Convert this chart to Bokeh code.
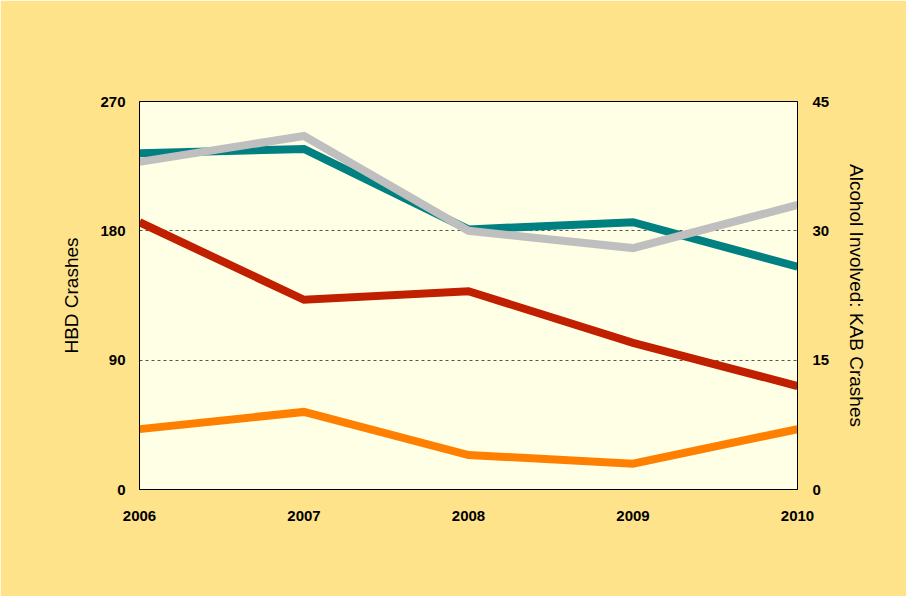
from bokeh.plotting import figure
from bokeh.models import (Range1d, LinearAxis, FixedTicker, Legend, LegendItem,
                          ColumnDataSource, CDSView, BooleanFilter)
from bokeh.embed import file_html
from bokeh.resources import INLINE

years = [2006, 2007, 2008, 2009, 2010]
hbd_crashes = [234, 237, 181, 186, 155]
hbd_fatal = [7, 9, 4, 3, 7]
hbd_a_injury = [31, 22, 23, 17, 12]
hbd_b_injury = [38, 41, 30, 28, 33]
left_ticks = [0, 90, 180, 270]
right_ticks = [0, 15, 30, 45]
grid_ticks = [90, 180]

names = ["HBD Crashes", "HBD Fatal Crashes", "HBD A Injury Crashes", "HBD B Injury Crashes"]
colors = ["#008080", "#FF8000", "#C01F00", "#BFBFBF"]

FONT = "Liberation Sans"
BG = "#FFE38B"

p = figure(width=906, height=594, frame_width=658, frame_height=388,
           output_backend="svg", toolbar_location=None,
           x_range=Range1d(2006, 2010), y_range=Range1d(0, 270),
           min_border_left=139, min_border_right=109, min_border_top=101,
           min_border_bottom=105)
p.extra_y_ranges = {"right": Range1d(0, 45)}

p.background_fill_color = "#FFFFE6"
p.border_fill_color = BG
p.outline_line_color = "black"
p.outline_line_width = 1

# axes
p.xaxis.ticker = FixedTicker(ticks=years)
p.yaxis.ticker = FixedTicker(ticks=left_ticks)
p.yaxis.axis_label = "HBD Crashes"

raxis = LinearAxis(y_range_name="right", ticker=FixedTicker(ticks=right_ticks),
                   axis_label="Alcohol Involved: KAB Crashes")
p.add_layout(raxis, "right")

for ax in [p.xaxis[0], p.yaxis[0], raxis]:
    ax.major_tick_line_color = None
    ax.minor_tick_line_color = None
    ax.major_tick_out = 0
    ax.major_tick_in = 0
    ax.minor_tick_out = 0
    ax.axis_line_color = "black"
    ax.major_label_text_font = FONT
    ax.major_label_text_font_style = "bold"
    ax.major_label_text_font_size = "15px"
    ax.major_label_text_color = "black"
    ax.axis_label_text_font = FONT
    ax.axis_label_text_font_style = "normal"
    ax.axis_label_text_font_size = "19px"
    ax.axis_label_text_color = "black"

p.xaxis.major_label_standoff = 21
p.yaxis.major_label_standoff = 14
raxis.major_label_standoff = 15
p.yaxis.axis_label_standoff = 15
raxis.axis_label_standoff = 14
# blank x-axis title only reserves room between the year labels and the legend
p.xaxis.axis_label = " "
p.xaxis.axis_label_text_font_size = "16px"
p.xaxis.axis_label_standoff = 10

p.xgrid.visible = False
p.ygrid.ticker = FixedTicker(ticks=grid_ticks)
p.ygrid.grid_line_color = "#555555"
p.ygrid.grid_line_dash = "3 3"
p.ygrid.grid_line_width = 1

# lines
series = [(hbd_crashes, "default"), (hbd_fatal, "right"), (hbd_a_injury, "right"),
          (hbd_b_injury, "right")]
for (vals, rng), c in zip(series, colors):
    p.line(years, vals, line_color=c, line_width=8, line_join="miter",
           y_range_name=rng)

# legend swatches: zero-size quads (invisible on the chart), shown as squares in the legend
items = []
for (vals, rng), name, c in zip(series, names, colors):
    src = ColumnDataSource(dict(x=years, y=vals))
    view = CDSView(filter=BooleanFilter([True] + [False] * (len(years) - 1)))
    r = p.quad(left="x", right="x", top="y", bottom="y", source=src, view=view,
               fill_color=c, line_color="#222222", line_width=1, y_range_name=rng)
    items.append(LegendItem(label=name, renderers=[r]))

legend = Legend(items=items, orientation="horizontal", location="center",
                glyph_width=28, glyph_height=28, label_standoff=8,
                spacing=10, padding=0, margin=0,
                border_line_color=None, background_fill_alpha=0,
                label_text_font=FONT, label_text_font_size="14px",
                label_text_color="black")
p.add_layout(legend, "below")

open("out.html", "w").write(file_html(p, INLINE))
